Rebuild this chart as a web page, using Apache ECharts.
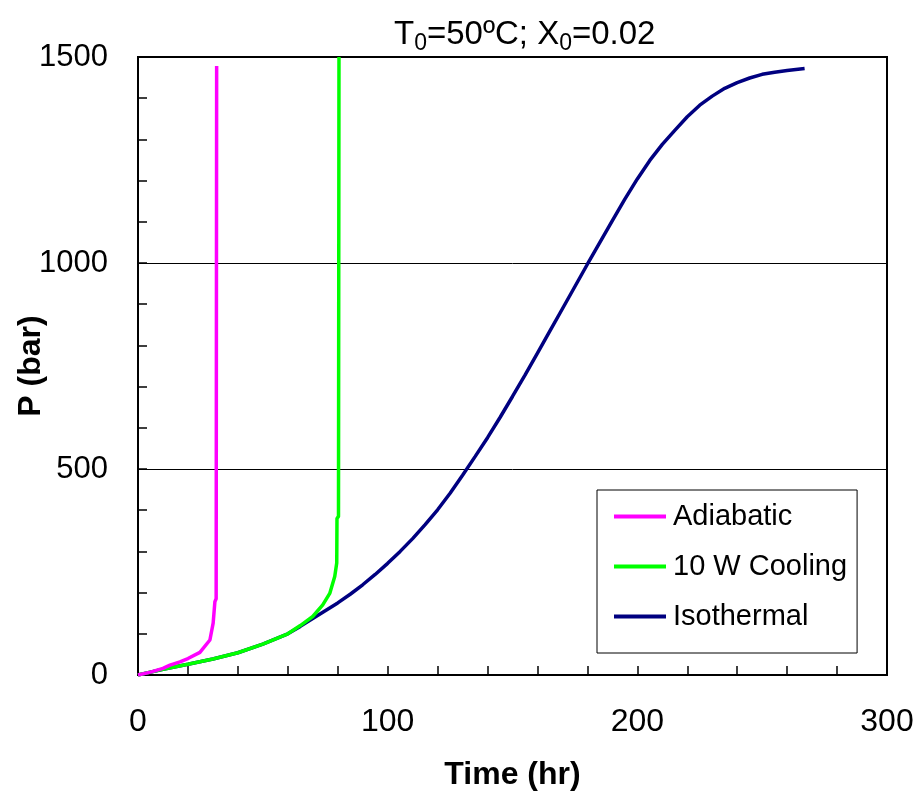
<!DOCTYPE html>
<html>
<head>
<meta charset="utf-8">
<script src="https://cdn.jsdelivr.net/npm/echarts@6/dist/echarts.min.js"></script>
<style>html,body{margin:0;padding:0;background:#fff}#c{width:921px;height:792px}</style>
</head>
<body>
<div id="c"></div>
<script>
// Data (Time in hr, P in bar)
const seriesNames = ['Adiabatic', '10 W Cooling', 'Isothermal'];
const adiabaticTime = [0, 5, 10, 12.8, 16.8, 20, 24.8, 28.8, 30.1, 30.8, 31.3, 31.5];
const adiabaticP    = [0, 7, 16, 24, 32, 40, 55, 85, 126, 178, 185, 1478];
const coolingTime = [0, 5, 10, 20, 30, 40, 50, 60, 65, 70, 74, 76.8, 78.8, 79.6, 79.7, 80.3, 80.5];
const coolingP    = [0, 7, 14, 26, 39, 54, 75, 100, 120, 142, 170, 198, 239, 272, 380, 385, 1500];
const isoTime = [0, 5, 10, 20, 30, 40, 50, 60, 65, 70, 75, 80, 85, 90, 95, 100, 105, 110, 115, 120, 125, 130, 135, 140, 145, 150, 155, 160, 165, 170, 175, 180, 185, 190, 195, 200, 205, 210, 215, 220, 225, 230, 235, 240, 245, 250, 255, 260, 267];
const isoP    = [0, 7, 14, 26, 39, 54, 75, 100, 118, 137, 156, 175, 196, 219, 244, 271, 300, 331, 365, 401, 441, 485, 530, 576, 625, 676, 728, 781, 835, 889, 943, 997, 1050, 1103, 1155, 1204, 1249, 1288, 1322, 1355, 1383, 1405, 1424, 1438, 1449, 1458, 1463, 1467, 1472];
const xTicks = [0, 100, 200, 300];
const yTicks = [0, 500, 1000, 1500];
const colors = ['#FF00FF', '#00FF00', '#000080'];

const pairs = (xs, ys) => xs.map((x, i) => [x, ys[i]]);
const seriesData = [pairs(adiabaticTime, adiabaticP), pairs(coolingTime, coolingP), pairs(isoTime, isoP)];

const font = 'Liberation Sans, Arial, sans-serif';
const chart = echarts.init(document.getElementById('c'));
chart.setOption({
  animation: false,
  backgroundColor: '#fff',
  title: {
    text: 'T{sub|0}=50ºC; X{sub|0}=0.02',
    left: 389, top: 10,
    textStyle: {
      fontFamily: font, fontSize: 33, fontWeight: 'normal', color: '#000', lineHeight: 40,
      rich: { sub: { fontFamily: font, fontSize: 23, color: '#000', lineHeight: 25, verticalAlign: 'bottom' } }
    }
  },
  grid: { left: 138, right: 34, top: 57, bottom: 117, outerBoundsMode: 'none', containLabel: false, show: true, borderColor: '#000', borderWidth: 2, backgroundColor: 'transparent' },
  legend: {
    orient: 'vertical', left: 597, top: 490,
    data: seriesNames.map(n => ({ name: n, icon: 'rect' })),
    itemWidth: 52, itemHeight: 4, itemGap: 21,
    padding: [12, 10, 22, 17],
    borderColor: '#000', borderWidth: 1, backgroundColor: '#fff',
    textStyle: { fontFamily: font, fontSize: 29, color: '#000', padding: [0, 0, 0, 2] }
  },
  xAxis: {
    type: 'value', min: xTicks[0], max: xTicks[xTicks.length - 1], interval: 100,
    name: 'Time (hr)', nameLocation: 'middle', nameGap: 84, nameMoveOverlap: false,
    nameTextStyle: { fontFamily: font, fontSize: 32, fontWeight: 'bold', color: '#000' },
    axisLine: { show: true, onZero: false, lineStyle: { color: '#000', width: 2 } },
    axisTick: { show: true, inside: true, length: 9, lineStyle: { color: '#000', width: 1.5 } },
    minorTick: { show: true, splitNumber: 5, length: 9, lineStyle: { color: '#000', width: 1.5 } },
    splitLine: { show: false },
    axisLabel: { fontFamily: font, fontSize: 32, color: '#000', margin: 31, formatter: v => xTicks.includes(v) ? String(v) : '' }
  },
  yAxis: {
    type: 'value', min: yTicks[0], max: yTicks[yTicks.length - 1], interval: 500,
    name: 'P (bar)', nameLocation: 'middle', nameGap: 91, nameMoveOverlap: false,
    nameTextStyle: { fontFamily: font, fontSize: 32, fontWeight: 'bold', color: '#000' },
    axisLine: { show: true, onZero: false, lineStyle: { color: '#000', width: 2 } },
    axisTick: { show: true, inside: true, length: 9, lineStyle: { color: '#000', width: 1.5 } },
    minorTick: { show: true, splitNumber: 5, length: 9, lineStyle: { color: '#000', width: 1.5 } },
    splitLine: { show: true, lineStyle: { color: '#000', width: 1 } },
    axisLabel: { fontFamily: font, fontSize: 31, color: '#000', margin: 30, formatter: v => yTicks.includes(v) ? String(v) : '' }
  },
  series: seriesNames.map((n, i) => ({
    name: n, type: 'line', data: seriesData[i], showSymbol: false, symbol: 'none',
    lineStyle: { color: colors[i], width: 3.5 }, itemStyle: { color: colors[i] },
    z: 5 - i
  }))
});
</script>
</body>
</html>
